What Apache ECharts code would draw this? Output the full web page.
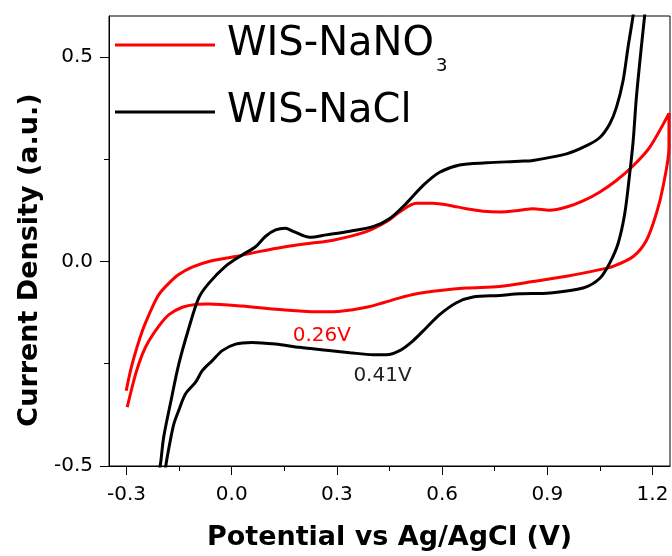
<!DOCTYPE html>
<html>
<head>
<meta charset="utf-8">
<script src="https://cdn.jsdelivr.net/npm/echarts@6/dist/echarts.min.js"></script>
<style>html,body{margin:0;padding:0;background:#fff;}#c{width:672px;height:556px;}</style>
</head>
<body>
<div id="c"></div>
<script>
// ---- data ----
const seriesNames = ['WIS-NaNO3', 'WIS-NaCl'];
const nano3Potential = [-0.301,-0.284,-0.255,-0.227,-0.208,-0.179,-0.151,-0.113,-0.065,0.011,0.077,0.153,0.220,0.289,0.384,0.441,0.479,0.527,0.574,0.622,0.669,0.717,0.764,0.822,0.859,0.907,0.955,1.002,1.050,1.097,1.145,1.192,1.247,
  1.247,1.230,1.211,1.183,1.145,1.088,1.050,0.955,0.859,0.764,0.669,0.574,0.527,0.479,0.432,0.384,0.289,0.242,0.194,0.125,0.030,-0.065,-0.103,-0.141,-0.179,-0.208,-0.236,-0.255,-0.274,-0.298];
const nano3Current = [-0.316,-0.251,-0.170,-0.113,-0.081,-0.053,-0.032,-0.014,0.000,0.012,0.024,0.036,0.044,0.052,0.073,0.097,0.121,0.142,0.142,0.137,0.129,0.123,0.121,0.125,0.129,0.125,0.133,0.148,0.170,0.198,0.234,0.279,0.362,
  0.279,0.182,0.117,0.052,0.012,-0.012,-0.020,-0.036,-0.049,-0.061,-0.065,-0.073,-0.079,-0.089,-0.101,-0.112,-0.123,-0.123,-0.121,-0.117,-0.109,-0.104,-0.105,-0.112,-0.130,-0.158,-0.194,-0.227,-0.275,-0.356];
const naclPotential = [-0.215,-0.203,-0.194,-0.175,-0.151,-0.122,-0.094,-0.065,-0.018,0.030,0.068,0.096,0.125,0.153,0.177,0.223,0.270,0.337,0.403,0.451,0.498,0.546,0.593,0.650,0.727,0.822,0.859,0.955,1.012,1.050,1.078,1.097,1.116,1.130,1.145,1.152,
  1.185,1.178,1.168,1.154,1.145,1.135,1.121,1.102,1.078,1.050,1.002,0.907,0.822,0.764,0.688,0.641,0.593,0.555,0.517,0.479,0.441,0.403,0.337,0.270,0.194,0.125,0.058,0.011,-0.027,-0.056,-0.084,-0.103,-0.132,-0.151,-0.165,-0.175,-0.187,-0.197];
const naclCurrent = [-0.560,-0.494,-0.429,-0.348,-0.251,-0.162,-0.089,-0.053,-0.012,0.016,0.036,0.061,0.077,0.081,0.073,0.059,0.065,0.074,0.085,0.105,0.142,0.186,0.218,0.236,0.241,0.245,0.247,0.263,0.283,0.303,0.336,0.376,0.441,0.522,0.603,0.660,
  0.660,0.603,0.522,0.400,0.295,0.214,0.117,0.044,-0.004,-0.041,-0.065,-0.077,-0.079,-0.083,-0.087,-0.101,-0.130,-0.162,-0.194,-0.218,-0.228,-0.228,-0.223,-0.217,-0.210,-0.202,-0.198,-0.202,-0.218,-0.243,-0.267,-0.295,-0.324,-0.364,-0.397,-0.437,-0.494,-0.560];
const xMajorTicks = [-0.3, 0.0, 0.3, 0.6, 0.9, 1.2];
const xMinorTicks = [-0.15, 0.15, 0.45, 0.75, 1.05];
const yMajorTicks = [-0.5, 0.0, 0.5];
const yMinorTicks = [-0.25, 0.25];
const annotText = ['0.26V', '0.41V'];
const annotPotential = [0.257, 0.430];
const annotCurrent = [-0.182, -0.279];

// ---- chart ----
const FONT = 'DejaVu Sans';
const zip = (a, b) => a.map((v, i) => [v, b[i]]);
const fmt = v => v.toFixed(1);
const colors = ['#ff0000', '#000000'];

const baseX = {type: 'value', min: -0.35, max: 1.25, position: 'bottom', splitLine: {show: false}};
const baseY = {type: 'value', min: -0.5, max: 0.6, position: 'left', splitLine: {show: false}};

const chart = echarts.init(document.getElementById('c'), null, {renderer: 'canvas'});
chart.setOption({
  animation: false,
  backgroundColor: '#fff',
  grid: {left: 109, right: 2, top: 16, bottom: 87, show: true, borderColor: '#000', borderWidth: 1, backgroundColor: 'transparent'},
  legend: {
    orient: 'vertical', left: 110, top: 20, itemWidth: 100, itemHeight: 3, itemGap: 17,
    icon: 'rect',
    data: seriesNames,
    formatter: n => n === 'WIS-NaNO3' ? '{m|WIS-NaNO}{s|3}' : '{m|WIS-NaCl}',
    textStyle: {
      padding: [0, 0, 0, 7],
      rich: {
        m: {fontFamily: FONT, fontSize: 40, color: '#000'},
        s: {fontFamily: FONT, fontSize: 18, color: '#000', padding: [42, 0, 0, 2]}
      }
    }
  },
  xAxis: [
    Object.assign({}, baseX, {
      name: 'Potential vs Ag/AgCl (V)', nameLocation: 'middle', nameGap: 58,
      nameTextStyle: {fontFamily: FONT, fontSize: 27, fontWeight: 'bold', color: '#000'},
      axisLine: {show: true, onZero: false, lineStyle: {color: '#000', width: 1}},
      axisTick: {show: true, inside: false, length: 9, customValues: xMajorTicks, lineStyle: {color: '#000', width: 1}},
      axisLabel: {show: true, margin: 19, customValues: xMajorTicks, formatter: fmt, fontFamily: FONT, fontSize: 20, color: '#000'}
    }),
    Object.assign({}, baseX, {
      axisLine: {show: false, onZero: false},
      axisTick: {show: true, inside: false, length: 5, customValues: xMinorTicks, lineStyle: {color: '#000', width: 1}},
      axisLabel: {show: false}
    })
  ],
  yAxis: [
    Object.assign({}, baseY, {
      name: 'Current Density (a.u.)', nameLocation: 'middle', nameGap: 66, nameRotate: 90,
      nameTextStyle: {fontFamily: FONT, fontSize: 27, fontWeight: 'bold', color: '#000', padding: [0, 38, 0, 0]},
      axisLine: {show: true, onZero: false, lineStyle: {color: '#000', width: 1}},
      axisTick: {show: true, inside: false, length: 9, customValues: yMajorTicks, lineStyle: {color: '#000', width: 1}},
      axisLabel: {show: true, margin: 16, customValues: yMajorTicks, formatter: fmt, fontFamily: FONT, fontSize: 20, color: '#000'}
    }),
    Object.assign({}, baseY, {
      axisLine: {show: false, onZero: false},
      axisTick: {show: true, inside: false, length: 5, customValues: yMinorTicks, lineStyle: {color: '#000', width: 1}},
      axisLabel: {show: false}
    })
  ],
  series: [
    {
      name: seriesNames[0], type: 'line', xAxisIndex: 0, yAxisIndex: 0,
      data: zip(nano3Potential, nano3Current), smooth: 0.3, symbol: 'none', clip: true,
      lineStyle: {color: colors[0], width: 3}, itemStyle: {color: colors[0]},
      markPoint: {
        symbol: 'circle', symbolSize: 0,
        label: {show: true, position: 'inside', formatter: annotText[0], fontFamily: FONT, fontSize: 20, color: colors[0]},
        data: [{coord: [annotPotential[0], annotCurrent[0]]}]
      }
    },
    {
      name: seriesNames[1], type: 'line', xAxisIndex: 0, yAxisIndex: 0,
      data: zip(naclPotential, naclCurrent), smooth: 0.3, symbol: 'none', clip: true,
      lineStyle: {color: colors[1], width: 3}, itemStyle: {color: colors[1]},
      markPoint: {
        symbol: 'circle', symbolSize: 0,
        label: {show: true, position: 'inside', formatter: annotText[1], fontFamily: FONT, fontSize: 20, color: '#222'},
        data: [{coord: [annotPotential[1], annotCurrent[1]]}]
      }
    }
  ]
});
</script>
</body>
</html>
